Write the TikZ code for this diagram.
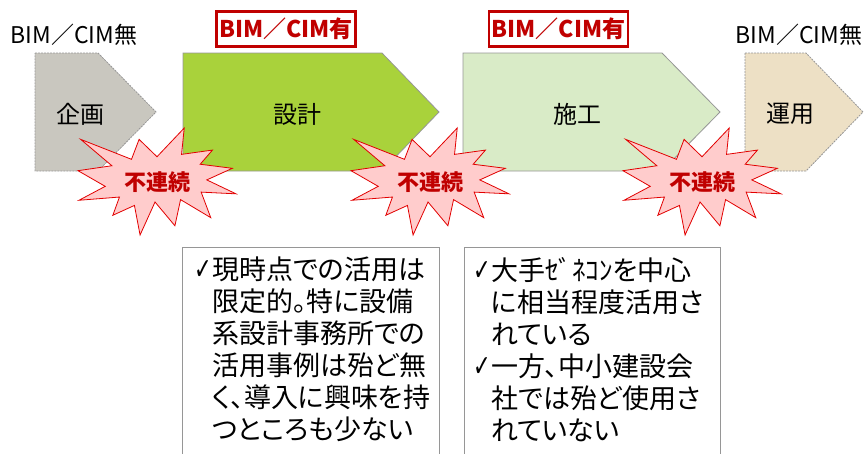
\documentclass[tikz,border=0pt]{standalone}
\usepackage{fontspec}
\usepackage{graphicx}
\setmainfont{Noto Sans CJK JP}
\newfontfamily\jp[RawFeature={+palt}]{Noto Sans CJK JP}
\newfontfamily\jpn{Noto Sans CJK JP}
\newfontfamily\dv{DejaVu Sans}
\definecolor{cgray}{RGB}{201,199,191}
\definecolor{cgreen}{RGB}{169,210,59}
\definecolor{clight}{RGB}{217,235,199}
\definecolor{ctan}{RGB}{237,224,197}
\definecolor{cpink}{RGB}{255,204,204}
\definecolor{cred}{RGB}{226,0,0}
\definecolor{cdark}{RGB}{192,0,0}
\definecolor{cedge}{RGB}{150,150,150}
\newcommand\chkmk{\makebox[18pt][l]{\scalebox{0.7}[1]{\dv\fontsize{30}{30}\selectfont ✓}}}
\newcommand\indnt{\hspace*{18pt}}
\begin{document}
\begin{tikzpicture}[x=1pt,y=-1pt,
  solidedge/.style={draw=cedge, line width=0.8pt},
  dashedge/.style={draw=cedge, line width=0.8pt, dash pattern=on 2pt off 1pt},
  stagelabel/.style={font=\fontsize{24}{24}\selectfont, inner sep=0pt},
  bimlabel/.style={font=\jp\fontsize{23}{23}\selectfont, inner sep=0pt},
  bimbox/.style={draw=cdark, line width=2.6pt, fill=white, text=cdark, font=\jp\bfseries\fontsize{23}{23}\selectfont, minimum width=139, minimum height=35, inner sep=0pt},
  burstedge/.style={draw=cred, fill=cpink, line width=0.8pt, line join=miter},
  bursttext/.style={text=cdark, font=\bfseries\fontsize{22}{22}\selectfont, inner sep=0pt},
  textbox/.style={draw=cedge, line width=0.8pt, fill=white, minimum height=230, inner sep=0pt},
  bodytext/.style={font=\jp\fontsize{27}{32}\selectfont, align=left, inner sep=0pt},
  burst/.pic={\draw[burstedge] (108,58) -- (145.22,0) -- (141.55,53.25) -- (183.80,44.57) -- (167.02,73.15) -- (210.97,81.37) -- (176.07,104.75) -- (216,132.90) -- (168.37,129.42) -- (181.45,180.95) -- (140.20,144.57) -- (132.47,197.37) -- (105.32,149.35) -- (84.85,216) -- (77.15,156.27) -- (47.62,176.17) -- (56.67,139.37) -- (1.35,145.87) -- (37.22,117.75) -- (0,86.15) -- (46.27,76.17) -- (3.70,22.95) -- (73.12,63.20) -- (83.52,22.95) -- cycle;}
]
\useasboundingbox (0,0) rectangle (864,453);
% stage arrows
\draw[dashedge, fill=cgray] (35,53) -- (98,53) -- (156,112) -- (98,171) -- (35,171) -- cycle;
\draw[solidedge, fill=cgreen] (183,53) -- (382,53) -- (439,112) -- (382,171) -- (183,171) -- cycle;
\draw[solidedge, fill=clight] (463,53) -- (662,53) -- (720,112) -- (662,171) -- (463,171) -- cycle;
\draw[dashedge, fill=ctan] (745,53) -- (806,53) -- (863,112) -- (806,171) -- (745,171) -- cycle;
\node[stagelabel] (kikaku) at (80,114) {企画};
\node[stagelabel] (sekkei) at (297,114) {設計};
\node[stagelabel] (sekou) at (577,114) {施工};
\node[stagelabel] (unyou) at (790,114) {運用};
% BIM/CIM labels
\node[bimlabel] (nashi1) at (74,35) {BIM／CIM無};
\node[bimlabel] (nashi2) at (799,35) {BIM／CIM無};
\node[bimbox] (ari1) at (286,29) {BIM／CIM有};
\node[bimbox] (ari2) at (558.5,29) {BIM／CIM有};
% discontinuity bursts
\pic[xscale=0.7315,yscale=0.4954] at (78,128) {burst};
\pic[xscale=0.7315,yscale=0.4954] at (351,128) {burst};
\pic[xscale=0.7315,yscale=0.4954] at (623,128) {burst};
\node[bursttext] (gap1) at (157,182) {不連続};
\node[bursttext] (gap2) at (430,182) {不連続};
\node[bursttext] (gap3) at (702,182) {不連続};
% text boxes
\node[textbox, anchor=north west, minimum width=257] (box1) at (182,247) {};
\node[textbox, anchor=north west, minimum width=256] (box2) at (464,247) {};
\node[bodytext, anchor=north west] (txt1) at (194,257) {\chkmk 現時点での活用は\\\indnt 限定的。特に設備\\\indnt 系設計事務所での\\\indnt 活用事例は殆ど無\\\indnt く、導入に興味を持\\\indnt つところも少ない};
\node[bodytext, anchor=north west] (txt2) at (473,257) {\chkmk 大手{\jpn ｾﾞﾈｺﾝ}を中心\\\indnt に相当程度活用さ\\\indnt れている\\\chkmk 一方、中小建設会\\\indnt 社では殆ど使用さ\\\indnt れていない};
\end{tikzpicture}
\end{document}
